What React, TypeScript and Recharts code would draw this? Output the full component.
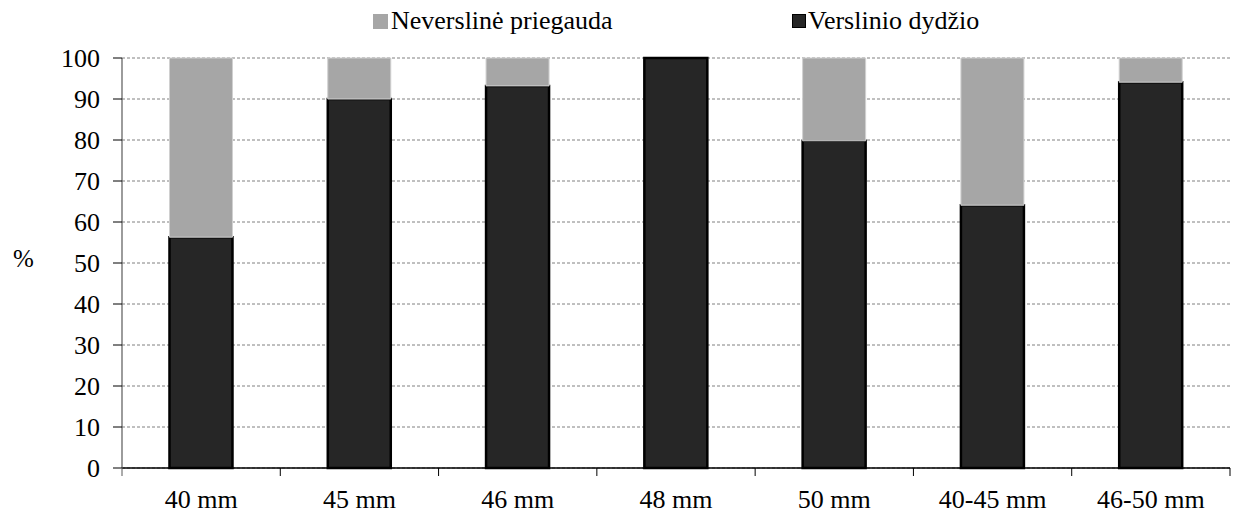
import React from 'react';
import { BarChart, Bar, XAxis, YAxis, CartesianGrid, Legend } from 'recharts';

const categories = ['40 mm', '45 mm', '46 mm', '48 mm', '50 mm', '40-45 mm', '46-50 mm'];
const verslinio = [56.3, 90.0, 93.2, 100, 79.8, 64.1, 94.1];
const neverslineLabel = 'Neverslinė priegauda';
const verslinioLabel = 'Verslinio dydžio';
const yTicks = [0, 10, 20, 30, 40, 50, 60, 70, 80, 90, 100];

const data = categories.map((c, i) => ({
  name: c,
  verslinio: verslinio[i],
  neverslinė: Math.round((100 - verslinio[i]) * 10) / 10,
}));

const W = 1233;
const H = 514;
const YW = 122;
const MR = 3;
const LEGEND_H = 40;
const FONT = 'Liberation Serif';
const band = (W - YW - MR) / categories.length;

const XTick = (props: any) => {
  const { x, y, payload, index } = props;
  const axisY = y - 8;
  return (
    <g>
      <text x={x} y={axisY + 40} textAnchor="middle" style={{ fontFamily: FONT, fontSize: 26 }} fill="#000">
        {payload.value}
      </text>
      <line x1={x + band / 2} y1={axisY} x2={x + band / 2} y2={axisY + 8} stroke="#000" strokeWidth={1} />
      {index === 0 ? (
        <line x1={x - band / 2} y1={axisY} x2={x - band / 2} y2={axisY + 8} stroke="#595959" strokeWidth={1} />
      ) : null}
    </g>
  );
};

const YTick = (props: any) => {
  const { x, y, payload } = props;
  return (
    <text x={x} y={y} dy="0.355em" textAnchor="end" style={{ fontFamily: FONT, fontSize: 26 }} fill="#000">
      {payload.value}
    </text>
  );
};

const YLabel = (props: any) => {
  const { viewBox } = props;
  const cy = viewBox ? viewBox.y + viewBox.height / 2 : 263;
  return (
    <text x={13} y={cy - 5} dy="0.355em" textAnchor="start" style={{ fontFamily: FONT, fontSize: 25 }} fill="#000">
      %
    </text>
  );
};

const LegendContent = () => (
  <div style={{ position: 'relative', height: LEGEND_H, fontFamily: FONT, fontSize: 26, color: '#000', lineHeight: '30px' }}>
    <div style={{ position: 'absolute', left: 373, top: 6, display: 'flex', alignItems: 'center' }}>
      <span style={{ display: 'inline-block', width: 15, height: 15, background: '#a6a6a6', marginRight: 3 }} />
      <span>{neverslineLabel}</span>
    </div>
    <div style={{ position: 'absolute', left: 792, top: 6, display: 'flex', alignItems: 'center' }}>
      <span style={{ display: 'inline-block', width: 12, height: 12, background: '#262626', border: '1.5px solid #000', marginRight: 2 }} />
      <span>{verslinioLabel}</span>
    </div>
  </div>
);

export default function App() {
  return (
    <div style={{ position: 'absolute', left: 0, top: 0, width: W, height: H, background: '#fff', fontFamily: FONT }}>
      <BarChart
        width={W}
        height={H}
        data={data}
        margin={{ top: 58 - LEGEND_H, right: MR, bottom: 0, left: 0 }}
        barCategoryGap="30%"
        style={{ fontFamily: FONT }}
      >
        <Legend verticalAlign="top" align="left" content={LegendContent} wrapperStyle={{ top: 0, left: 0, width: W, height: LEGEND_H }} />
        <CartesianGrid horizontal vertical={false} stroke="#808080" strokeDasharray="3 2" />
        <XAxis
          dataKey="name"
          height={46}
          axisLine={{ stroke: '#000', strokeWidth: 1.5 }}
          tickLine={false}
          tick={<XTick />}
          interval={0}
        />
        <YAxis
          width={YW}
          domain={[0, 100]}
          ticks={yTicks}
          interval={0}
          axisLine={{ stroke: '#595959', strokeWidth: 1.2 }}
          tickLine={{ stroke: '#000' }}
          tickSize={9}
          tickMargin={13}
          tick={<YTick />}
          label={<YLabel />}
        />
        <Bar dataKey="verslinio" stackId="a" fill="#262626" stroke="#000" strokeWidth={2.5} isAnimationActive={false} />
        <Bar dataKey="neverslinė" stackId="a" fill="#a6a6a6" stroke="#d0d0d0" strokeWidth={1} isAnimationActive={false} />
      </BarChart>
    </div>
  );
}
